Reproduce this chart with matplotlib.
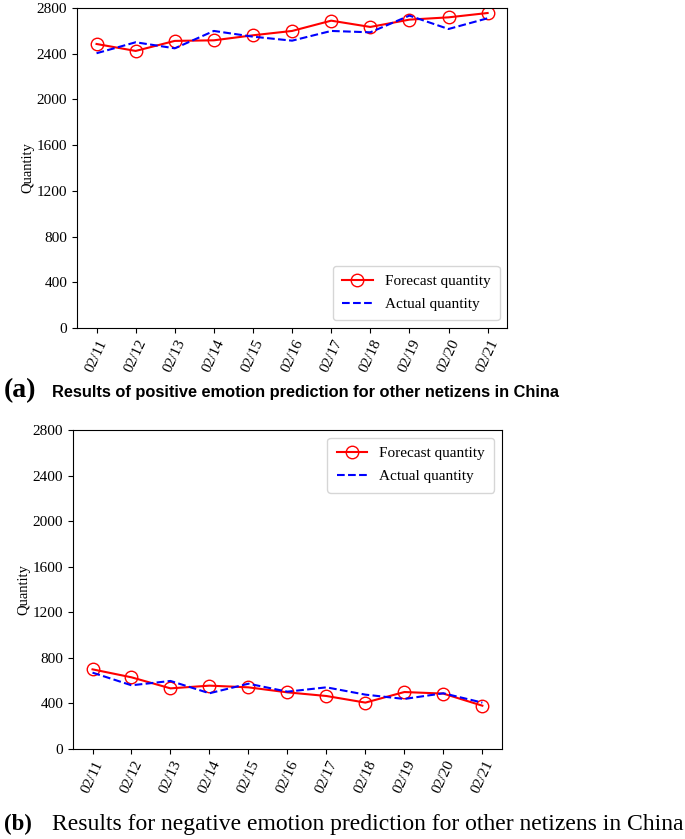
import matplotlib
matplotlib.use('Agg')
import matplotlib.pyplot as plt

# dates on the x axis
dates = ['02/11', '02/12', '02/13', '02/14', '02/15', '02/16',
         '02/17', '02/18', '02/19', '02/20', '02/21']

# (a) positive emotion
pos_forecast = [2485, 2424, 2512, 2517, 2561, 2599, 2689, 2634, 2698, 2718, 2756]
pos_actual = [2404, 2500, 2447, 2599, 2549, 2514, 2599, 2587, 2733, 2616, 2710]

# (b) negative emotion
neg_forecast = [699, 629, 532, 556, 541, 497, 465, 407, 500, 486, 380]
neg_actual = [670, 559, 597, 489, 573, 503, 541, 477, 439, 489, 407]

yticks = [0, 400, 800, 1200, 1600, 2000, 2400, 2800]

plt.rcParams['font.family'] = ['Liberation Serif', 'DejaVu Serif']

fig = plt.figure(figsize=(6.85, 8.39), dpi=100)
ax1 = fig.add_axes([0.1124, 0.609, 0.628, 0.3815])
ax2 = fig.add_axes([0.1066, 0.1073, 0.626, 0.3802])


def draw(ax, forecast, actual, loc):
    x = range(len(dates))
    ax.plot(x, forecast, color='red', linewidth=1.5, marker='o', markersize=9,
            markerfacecolor='none', markeredgecolor='red', label='Forecast quantity')
    ax.plot(x, actual, color='blue', linewidth=1.5, linestyle='--', label='Actual quantity')
    ax.set_ylim(0, 2800)
    ax.set_yticks(yticks)
    ax.set_xticks(list(x))
    ax.set_xticklabels(dates, rotation=65)
    ax.tick_params(labelsize=11)
    ax.set_ylabel('Quantity', fontsize=10.5, labelpad=2)
    ax.legend(loc=loc, fontsize=11, borderpad=0.6, labelspacing=0.6)


draw(ax1, pos_forecast, pos_actual, 'lower right')
draw(ax2, neg_forecast, neg_actual, 'upper right')

fig.text(0.006, 0.527, '(a)', fontsize=20, fontweight='bold', va='baseline')
fig.text(0.076, 0.527, 'Results of positive emotion prediction for other netizens in China',
         fontsize=11.8, fontweight='bold', family=['Liberation Sans', 'DejaVu Sans'], va='baseline')
fig.text(0.006, 0.011, '(b)', fontsize=16.5, fontweight='bold', va='baseline')
fig.text(0.076, 0.011, 'Results for negative emotion prediction for other netizens in China',
         fontsize=17, va='baseline')

fig.savefig('out.png', dpi=100)
